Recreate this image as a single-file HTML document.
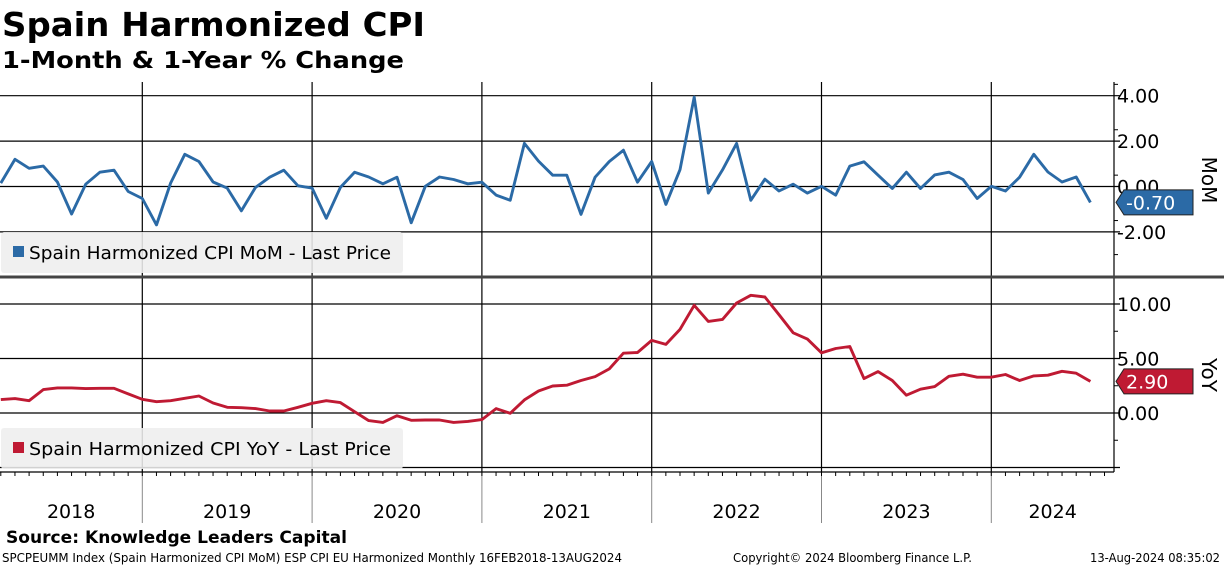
<!DOCTYPE html>
<html><head><meta charset="utf-8"><style>
html,body{margin:0;padding:0;background:#fff;}
body{width:1224px;height:566px;overflow:hidden;font-family:"DejaVu Sans","Liberation Sans",sans-serif;}
svg text{font-family:"DejaVu Sans","Liberation Sans",sans-serif;}
</style></head><body>
<svg id="chart" width="1224" height="566" viewBox="0 0 1224 566" xmlns="http://www.w3.org/2000/svg">
<text x="2" y="36" font-size="33" font-weight="bold" textLength="423" lengthAdjust="spacingAndGlyphs">Spain Harmonized CPI</text>
<text x="2" y="68" font-size="23" font-weight="bold" textLength="402" lengthAdjust="spacingAndGlyphs">1-Month &amp; 1-Year % Change</text>
<g id="grid"></g>
<g id="lines"></g>
<g id="axes"></g>
<text x="6" y="543" font-size="17" font-weight="bold" textLength="341" lengthAdjust="spacingAndGlyphs">Source: Knowledge Leaders Capital</text>
<text x="2" y="562" font-size="12" textLength="620" lengthAdjust="spacingAndGlyphs">SPCPEUMM Index (Spain Harmonized CPI MoM) ESP CPI EU Harmonized  Monthly 16FEB2018-13AUG2024</text>
<text x="733" y="562" font-size="12" textLength="239" lengthAdjust="spacingAndGlyphs">Copyright© 2024 Bloomberg Finance L.P.</text>
<text x="1090" y="562" font-size="12" textLength="130" lengthAdjust="spacingAndGlyphs">13-Aug-2024 08:35:02</text>
</svg>
<script>
const years = ["2018","2019","2020","2021","2022","2023","2024"];
const momValues = [0.15,1.2,0.8,0.9,0.2,-1.21,0.1,0.63,0.72,-0.22,-0.53,-1.69,0.15,1.42,1.1,0.2,-0.07,-1.07,-0.04,0.41,0.72,0.03,-0.07,-1.4,-0.04,0.63,0.42,0.12,0.41,-1.6,0.01,0.42,0.31,0.12,0.19,-0.38,-0.61,1.9,1.12,0.5,0.5,-1.23,0.41,1.1,1.6,0.19,1.1,-0.79,0.74,3.94,-0.29,0.73,1.9,-0.61,0.32,-0.2,0.1,-0.29,0.01,-0.38,0.9,1.09,0.5,-0.09,0.63,-0.09,0.51,0.63,0.31,-0.53,0.01,-0.2,0.41,1.42,0.64,0.2,0.42,-0.7];
const yoyValues = [1.23,1.32,1.13,2.15,2.3,2.3,2.24,2.27,2.27,1.75,1.26,1.04,1.13,1.35,1.56,0.92,0.52,0.49,0.4,0.18,0.18,0.52,0.89,1.13,0.95,0.12,-0.7,-0.86,-0.25,-0.67,-0.64,-0.64,-0.86,-0.77,-0.61,0.4,-0.03,1.2,2.02,2.48,2.55,2.98,3.34,4.05,5.49,5.55,6.66,6.29,7.67,9.88,8.4,8.59,10.09,10.8,10.64,9.02,7.36,6.78,5.52,5.92,6.1,3.16,3.8,2.98,1.63,2.18,2.42,3.37,3.56,3.28,3.28,3.53,2.98,3.4,3.47,3.83,3.65,2.9];
const momTicks = [4,2,0,-2];
const yoyTicks = [10,5,0,-5];

const NS="http://www.w3.org/2000/svg";
const PL=0, PR=1114, AXB=472;
const xOf = i => 142.3 + (i-10)*14.15;
const yMom = v => 186.5 - v*22.7;
const yYoy = v => 413 - v*10.9;
function mk(tag, attrs, parent){const e=document.createElementNS(NS,tag);for(const k in attrs)e.setAttribute(k,attrs[k]);parent.appendChild(e);return e;}
const grid=document.getElementById('grid'), lines=document.getElementById('lines'), axes=document.getElementById('axes');

momTicks.forEach(t=>{
  const y=yMom(t);
  const l=mk('line',{x1:PL,x2:PR+6,y1:y,y2:y,stroke:'#000','stroke-width':1.2},grid);
  
  
  const tx=mk('text',{x:1117,y:y+7,'font-size':19},axes);
  tx.textContent=t.toFixed(2);
  
  
  const m=mk('line',{x1:PR,x2:PR+4,y1:y-11.35,y2:y-11.35,stroke:'#000'},axes);
  
  
});
const mm=mk('line',{x1:PR,x2:PR+4,y1:yMom(-3),y2:yMom(-3),stroke:'#000'},axes);


yoyTicks.forEach(t=>{
  const y=yYoy(t);
  const l=mk('line',{x1:PL,x2:PR+6,y1:y,y2:y,stroke:'#000','stroke-width':1.2},grid);
  
  
  if(t>-5){
    const tx=mk('text',{x:1117,y:y+7,'font-size':19},axes);
    tx.textContent=t.toFixed(2);
    
    
    const m=mk('line',{x1:PR,x2:PR+4,y1:y+27.25,y2:y+27.25,stroke:'#000'},axes);
    
    
  }
});
const yStart = xOf(10);
const yw = 14.15*12;
for(let k=0;k<years.length;k++){
  const xb = yStart + (k-1)*yw, xe = yStart + k*yw;
  if(k>0){
    const v=mk('line',{x1:xb,x2:xb,y1:82,y2:AXB,stroke:'#000','stroke-width':1.2},grid);
    
    
    const s=mk('line',{x1:xb,x2:xb,y1:AXB,y2:523,stroke:'#888','stroke-width':1},axes);
    
    
  }
  const cx=(Math.max(0,xb)+Math.min(PR,xe))/2;
  const tx=mk('text',{x:cx,y:518,'font-size':19,'text-anchor':'middle'},axes);
  tx.textContent=years[k];
  
  
}
for(let i=0;i<82;i++){
  const xx=yStart+(i-10)*14.15;
  if(xx<0||xx>PR) continue;
  const t=mk('line',{x1:xx,x2:xx,y1:AXB,y2:AXB+4,stroke:'#000'},axes);
  
  
}
const ax=mk('line',{x1:PR,x2:PR,y1:82,y2:AXB,stroke:'#000','stroke-width':1.2},axes);


const bx=mk('line',{x1:0,x2:PR,y1:AXB,y2:AXB,stroke:'#000','stroke-width':1.2},axes);


const sep=mk('rect',{x:0,y:275.5,width:1224,height:3,fill:'#444'},axes);



function series(vals,yf,color,name){
  const p=mk('polyline',{points:vals.map((v,i)=>xOf(i).toFixed(1)+','+yf(v).toFixed(1)).join(' '),fill:'none',stroke:color,'stroke-width':2.9,'stroke-linejoin':'round'},lines);
  
  
}
series(momValues,yMom,'#2b6aa6','mom-line');
series(yoyValues,yYoy,'#bf1a33','yoy-line');

function legend(y,color,label,name){
  const g=mk('g',{},axes);
  
  
  mk('rect',{x:1,y:y,width:402,height:41,rx:3,fill:'#eeeeee','fill-opacity':0.88},g);
  mk('rect',{x:13,y:y+14,width:11,height:11,fill:color},g);
  const t=mk('text',{x:29,y:y+27,'font-size':18,textLength:362,lengthAdjust:'spacingAndGlyphs'},g);
  t.textContent=label;
}
legend(232,'#2b6aa6','Spain Harmonized CPI MoM - Last Price','mom-legend');
legend(428,'#bf1a33','Spain Harmonized CPI YoY - Last Price','yoy-legend');

function tag(v,yf,color,name){
  const y=yf(v);
  const g=mk('g',{},axes);
  
  
  mk('polygon',{points:`1116,${y} 1124,${y-12.5} 1193,${y-12.5} 1193,${y+12.5} 1124,${y+12.5}`,fill:color,stroke:'#222','stroke-width':1},g);
  const t=mk('text',{x:1126,y:y+7,'font-size':19,fill:'#fff'},g);
  t.textContent=v.toFixed(2);
}
tag(momValues[momValues.length-1],yMom,'#2b6aa6','mom-last-value-tag');
tag(yoyValues[yoyValues.length-1],yYoy,'#bf1a33','yoy-last-value-tag');

function ptitle(y,txt,name){
  const t=mk('text',{x:1202,y:y,'font-size':20,'text-anchor':'middle',transform:`rotate(90 1202 ${y})`},axes);
  t.textContent=txt;
  
  
}
ptitle(180,'MoM','mom-axis-title');
ptitle(375,'YoY','yoy-axis-title');
</script>
</body></html>
